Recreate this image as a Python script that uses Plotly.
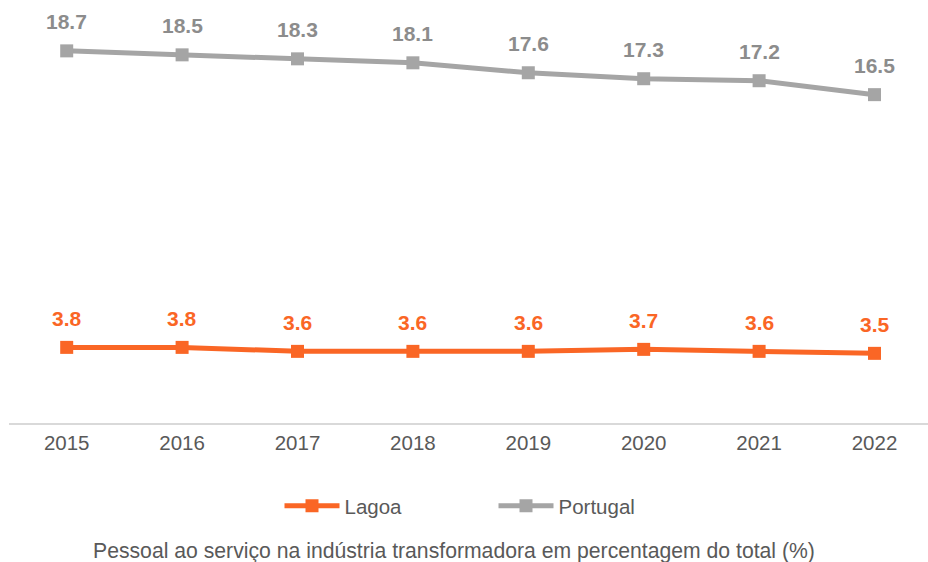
import plotly.graph_objects as go

# Employment in manufacturing as a share of total (%)
years = ["2015", "2016", "2017", "2018", "2019", "2020", "2021", "2022"]
lagoa = [3.8, 3.8, 3.6, 3.6, 3.6, 3.7, 3.6, 3.5]
portugal = [18.7, 18.5, 18.3, 18.1, 17.6, 17.3, 17.2, 16.5]

ORANGE = "#FA6625"
GREY = "#A5A5A5"
GREY_TEXT = "#8C8C8C"
AXIS_TEXT = "#595959"
FONT = "Liberation Sans, Arial, sans-serif"

W, H = 928, 562
M_L, M_R, M_T, M_B = 9, 0, 25, 139
PLOT_W = W - M_L - M_R
PLOT_H = H - M_T - M_B


def px_to_paper_x(px):
    return (px - M_L) / PLOT_W


def px_to_paper_y(py):
    return -(py - (H - M_B)) / PLOT_H


fig = go.Figure()

for name, vals, color, label_color in [
    ("Lagoa", lagoa, ORANGE, ORANGE),
    ("Portugal", portugal, GREY, GREY_TEXT),
]:
    fig.add_trace(go.Scatter(
        x=years, y=vals, name=name, mode="lines+markers",
        line=dict(color=color, width=5),
        marker=dict(symbol="square", size=13, color=color),
        cliponaxis=False,
    ))
    # value labels, placed by category index on the same axes
    for i, v in enumerate(vals):
        fig.add_annotation(
            x=i, y=v, text=f"<b>{v:.1f}</b>", showarrow=False,
            yshift=29, yanchor="middle",
            font=dict(family=FONT, size=21, color=label_color),
        )

# caption under the legend
fig.add_annotation(
    xref="paper", yref="paper", x=px_to_paper_x(453.5), y=px_to_paper_y(551),
    text="Pessoal ao serviço na indústria transformadora em percentagem do total (%)",
    showarrow=False, yanchor="middle", xanchor="center",
    font=dict(family=FONT, size=21.2, color=AXIS_TEXT),
)

fig.update_layout(
    width=W, height=H,
    margin=dict(l=M_L, r=M_R, t=M_T, b=M_B),
    paper_bgcolor="white", plot_bgcolor="white",
    font=dict(family=FONT, color=AXIS_TEXT),
    showlegend=True,
    legend=dict(
        orientation="h", xanchor="center", x=px_to_paper_x(493.5),
        yanchor="middle", y=px_to_paper_y(506),
        font=dict(family=FONT, size=20.5, color=AXIS_TEXT),
        entrywidth=144, itemwidth=55,
    ),
    xaxis=dict(
        type="category", range=[-0.5, -0.5 + PLOT_W / 115.4],
        showgrid=False, showline=True, linecolor="#D9D9D9", linewidth=2,
        ticks="", tickfont=dict(family=FONT, size=20.5, color=AXIS_TEXT),
        zeroline=False, fixedrange=True,
    ),
    yaxis=dict(
        range=[0, 20], visible=False, showgrid=False, zeroline=False,
    ),
)

fig.write_html("out.html")
